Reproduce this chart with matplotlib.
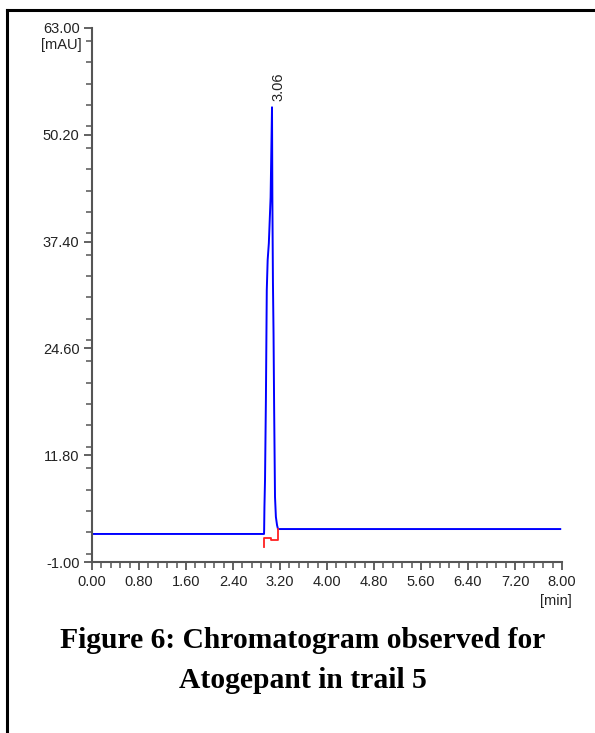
import numpy as np
import matplotlib.pyplot as plt
from matplotlib.lines import Line2D
from matplotlib.ticker import MultipleLocator

# chromatogram trace (time in min, absorbance in mAU)
time = [0.00, 2.928, 2.930, 2.935, 2.945, 2.960, 2.975, 2.990, 3.010, 3.040,
        3.064, 3.070, 3.080, 3.090, 3.100, 3.115, 3.130, 3.150, 3.166, 7.97]
signal = [2.36, 2.36, 2.84, 5.59, 8.83, 18.4, 31.6, 35.2, 37.2, 42.7,
          53.5, 42.7, 32.4, 26.4, 17.6, 6.8, 4.4, 3.4, 2.95, 2.95]

# integration baseline (red)
base_t = [2.925, 2.925, 3.05, 3.05, 3.168, 3.168]
base_y = [0.85, 1.90, 1.90, 1.65, 1.65, 2.95]

peak_rt = 3.06
peak_label = "3.06"

yticks = [-1.00, 11.80, 24.60, 37.40, 50.20, 63.00]
xticks = [0.00, 0.80, 1.60, 2.40, 3.20, 4.00, 4.80, 5.60, 6.40, 7.20, 8.00]

tick_font = ['Liberation Sans Narrow', 'Liberation Sans', 'DejaVu Sans']

fig = plt.figure(figsize=(5.95, 7.33), dpi=100)
ax = fig.add_axes([92/595, 1 - 562/733, 470/595, 534/733])

ax.plot(time, signal, color='#0000ff', lw=1.4)
ax.plot(base_t, base_y, color='#ff2020', lw=1.3)

ax.set_xlim(0, 8)
ax.set_ylim(-1, 63)
ax.set_xticks(xticks)
ax.set_yticks(yticks)
ax.set_xticklabels([f"{v:.2f}" for v in xticks])
ax.set_yticklabels([f"{v:.2f}" for v in yticks])
ax.xaxis.set_minor_locator(MultipleLocator(0.16))
ax.yaxis.set_minor_locator(MultipleLocator(2.56))

for s in ['top', 'right']:
    ax.spines[s].set_visible(False)
for s in ['left', 'bottom']:
    ax.spines[s].set_color('#555555')
    ax.spines[s].set_linewidth(1.5)

ax.tick_params(which='major', length=6, width=1.3, color='#555555',
               labelsize=10.5, labelcolor='#222222', pad=3)
ax.tick_params(which='minor', length=4, width=1.1, color='#555555')
for lab in ax.get_xticklabels() + ax.get_yticklabels():
    lab.set_family(tick_font)

ax.text(peak_rt + 0.11, 56.0, peak_label, rotation=90, ha='center', va='center',
        fontsize=10.5, color='#222222', family=tick_font)

fig.text(82/595, 1 - 45/733, "[mAU]", ha='right', va='center', fontsize=10.5,
         color='#222222', family=tick_font)
fig.text(556/595, 1 - 601/733, "[min]", ha='center', va='center', fontsize=10.5,
         color='#222222', family=tick_font)

fig.text(303/595, 1 - 640/733, "Figure 6: Chromatogram observed for", ha='center',
         va='center', fontsize=21.3, fontweight='bold',
         family=['Liberation Serif', 'DejaVu Serif'])
fig.text(303/595, 1 - 680/733, "Atogepant in trail 5", ha='center',
         va='center', fontsize=21.3, fontweight='bold',
         family=['Liberation Serif', 'DejaVu Serif'])

# page border
fig.add_artist(Line2D([7/595, 7/595], [0, 1 - 10/733], color='black', lw=2.2,
                      transform=fig.transFigure))
fig.add_artist(Line2D([7/595, 1], [1 - 10/733, 1 - 10/733], color='black', lw=2.2,
                      transform=fig.transFigure))

fig.savefig('out.png', dpi=100)
